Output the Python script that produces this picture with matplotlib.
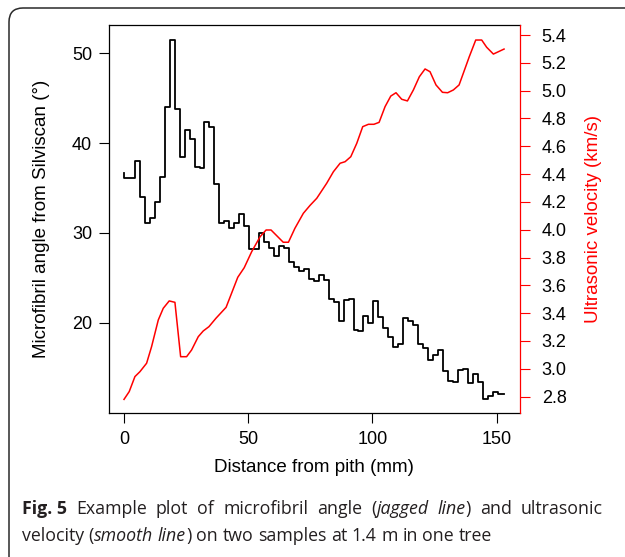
import matplotlib
matplotlib.use("Agg")
import matplotlib.pyplot as plt
from matplotlib.patches import FancyBboxPatch
from matplotlib.transforms import IdentityTransform

# microfibril angle from Silviscan (step trace, 2 mm windows)
mfa_dist = [0.0, 4.4, 6.4, 8.4, 10.4, 12.4, 14.4, 16.4, 18.4, 20.4, 22.4,
            24.4, 26.4, 28.4, 30.4, 32.4, 34.4, 36.4, 38.4, 40.4, 42.4,
            44.4, 46.4, 48.4, 50.4, 52.4, 54.4, 56.4, 58.4, 60.4, 62.4,
            64.4, 66.4, 68.4, 70.4, 72.4, 74.4, 76.4, 78.4, 80.4, 82.4,
            84.4, 86.4, 88.4, 90.4, 92.4, 94.4, 96.4, 98.4, 100.4, 102.4,
            104.4, 106.4, 108.4, 110.4, 112.4, 114.4, 116.4, 118.4, 120.4,
            122.4, 124.4, 126.4, 128.4, 130.4, 132.4, 134.4, 136.4, 138.4,
            140.4, 142.4, 144.4, 146.4, 148.4, 150.4, 153.0]
mfa_angle = [36.7, 36.15, 38.0, 34.0, 31.1, 31.7, 33.4, 36.2, 44.0, 51.5,
             43.8, 38.4, 41.5, 40.4, 37.3, 37.2, 42.4, 41.8, 35.4, 31.1,
             31.3, 30.5, 31.1, 32.1, 30.8, 28.2, 28.2, 30.0, 29.0, 28.3,
             27.4, 28.5, 28.3, 26.8, 26.2, 25.8, 26.0, 24.9, 24.6, 25.3,
             24.7, 22.6, 22.3, 20.2, 22.5, 22.6, 19.2, 19.1, 20.7, 20.0,
             22.4, 20.6, 19.4, 18.4, 17.3, 17.6, 20.5, 20.2, 19.7, 17.6,
             17.2, 15.8, 16.4, 17.0, 14.6, 13.5, 13.4, 14.7, 14.8, 13.3,
             14.3, 13.4, 11.5, 11.8, 12.3, 12.1]

# ultrasonic velocity (smooth trace)
vel_dist = [0, 2.1, 4.4, 6.4, 9.1, 11.1, 13.8, 15.8, 18.2, 20.5, 22.8, 25.2,
            27.2, 29.9, 31.9, 34.2, 37.0, 41.1, 43.3, 45.8, 48.4, 51.4, 54.8,
            57.2, 59.2, 64.1, 66.2, 68.8, 72.2, 74.9, 77.6, 81.6, 84.3, 87.0,
            89.0, 91.3, 93.7, 96.1, 98.4, 100.6, 102.7, 105.1, 107.4, 109.5,
            111.8, 114.1, 116.5, 118.9, 121.2, 123.2, 125.6, 128.2, 130.3,
            132.6, 134.9, 136.6, 139.0, 141.6, 144.0, 146.0, 148.7, 153.0]
vel_kms = [2.78, 2.836, 2.944, 2.979, 3.04, 3.159, 3.351, 3.435, 3.488, 3.478,
           3.087, 3.087, 3.135, 3.231, 3.272, 3.303, 3.363, 3.442, 3.543,
           3.658, 3.727, 3.842, 3.95, 3.998, 3.998, 3.91, 3.91, 4.01, 4.118,
           4.175, 4.226, 4.334, 4.417, 4.478, 4.489, 4.525, 4.621, 4.741,
           4.758, 4.758, 4.772, 4.885, 4.961, 4.985, 4.938, 4.926, 5.005,
           5.1, 5.156, 5.136, 5.041, 4.988, 4.985, 5.005, 5.041, 5.125,
           5.244, 5.364, 5.364, 5.312, 5.263, 5.299]

x_ticks = [0, 50, 100, 150]
mfa_ticks = [20, 30, 40, 50]
vel_ticks = [2.8, 3.0, 3.2, 3.4, 3.6, 3.8, 4.0, 4.2, 4.4, 4.6, 4.8, 5.0, 5.2, 5.4]

caption1 = [("Fig.\u00a05", "bold", "normal"),
            (" Example plot of microfibril angle (", "normal", "normal"),
            ("jagged line", "normal", "italic"),
            (") and ultrasonic", "normal", "normal")]
caption2 = [("velocity (", "normal", "normal"),
            ("smooth line", "normal", "italic"),
            (") on two samples at 1.4 m in one tree", "normal", "normal")]

W, H = 625, 557
TICK_FS = 13
LABEL_FS = 13.5
CAP_FS = 12.8
plt.rcParams["font.family"] = ["Liberation Sans", "DejaVu Sans"]
fig = plt.figure(figsize=(W / 100, H / 100), dpi=100)

# rounded frame round the figure panel
frame = FancyBboxPatch((9, -30), 680, H - 8 + 30,
                       boxstyle="round,pad=0,rounding_size=14",
                       transform=IdentityTransform(), fill=False,
                       edgecolor="#2a2a2a", linewidth=1.1)
fig.patches.append(frame)

ax = fig.add_axes([108.5 / W, 1 - 413.3 / H, 411.2 / W, 388.3 / H])
ax.step(mfa_dist, mfa_angle, where="pre", color="black", linewidth=1.3)
ax.set_xlim(-6.24, 159.3)
ax.set_ylim(9.91, 53.15)
ax.set_xticks(x_ticks)
ax.set_yticks(mfa_ticks)
ax.tick_params(axis="both", direction="out", length=7.5, width=0.8,
               labelsize=TICK_FS)
ax.tick_params(axis="y", pad=4.3)
ax.tick_params(axis="x", pad=5.5)
for s in ax.spines.values():
    s.set_linewidth(0.9)
ax.spines["right"].set_visible(False)

ax2 = ax.twinx()
ax2.plot(vel_dist, vel_kms, color="red", linewidth=1.1)
ax2.set_ylim(2.680, 5.472)
ax2.set_yticks(vel_ticks)
ax2.set_yticklabels([f"{v:.1f}" for v in vel_ticks])
ax2.tick_params(axis="y", direction="out", length=7.5, width=0.8,
                color="red", labelcolor="black", labelsize=TICK_FS, pad=8.4)
for k in ["left", "top", "bottom"]:
    ax2.spines[k].set_visible(False)
ax2.spines["right"].set_color("red")
ax2.spines["right"].set_linewidth(0.9)

fig.text(41.7 / W, 1 - 219 / H, "Microfibril angle from Silviscan (°)",
         rotation=90, ha="center", va="center", fontsize=LABEL_FS)
fig.text(594 / W, 1 - 219 / H, "Ultrasonic velocity (km/s)", color="red",
         rotation=90, ha="center", va="center", fontsize=LABEL_FS)
fig.text(314 / W, 1 - 467 / H, "Distance from pith (mm)",
         ha="center", va="center", fontsize=LABEL_FS)

# caption with mixed bold / italic runs, first line justified
renderer = fig.canvas.get_renderer()


def cap_text(x, y, txt, weight, style):
    return fig.text(x / W, 1 - y / H, txt, fontsize=CAP_FS, fontweight=weight,
                    fontstyle=style, family="Open Sans", color="#231f20",
                    ha="left", va="baseline")


def text_width(txt, weight="normal", style="normal"):
    t = cap_text(0, 0, txt, weight, style)
    w = t.get_window_extent(renderer).width
    t.remove()
    return w


def caption_line(runs, x0, y0, x_end=None):
    words = [[]]
    for txt, weight, style in runs:
        for i, part in enumerate(txt.split(" ")):
            if i > 0:
                words.append([])
            if part:
                words[-1].append((part, weight, style))
    words = [w for w in words if w]
    widths = [[text_width(*p) for p in w] for w in words]
    if x_end is None:
        gap = text_width("x x") - text_width("xx")
    else:
        total = sum(sum(w) for w in widths)
        gap = (x_end - x0 - total) / (len(words) - 1)
    x = x0
    for w, ws in zip(words, widths):
        for (txt, weight, style), pw in zip(w, ws):
            cap_text(x, y0, txt, weight, style)
            x += pw
        x += gap


caption_line(caption1, 22, 514, x_end=603)
caption_line(caption2, 22, 541)

fig.savefig("out.png", dpi=100)
